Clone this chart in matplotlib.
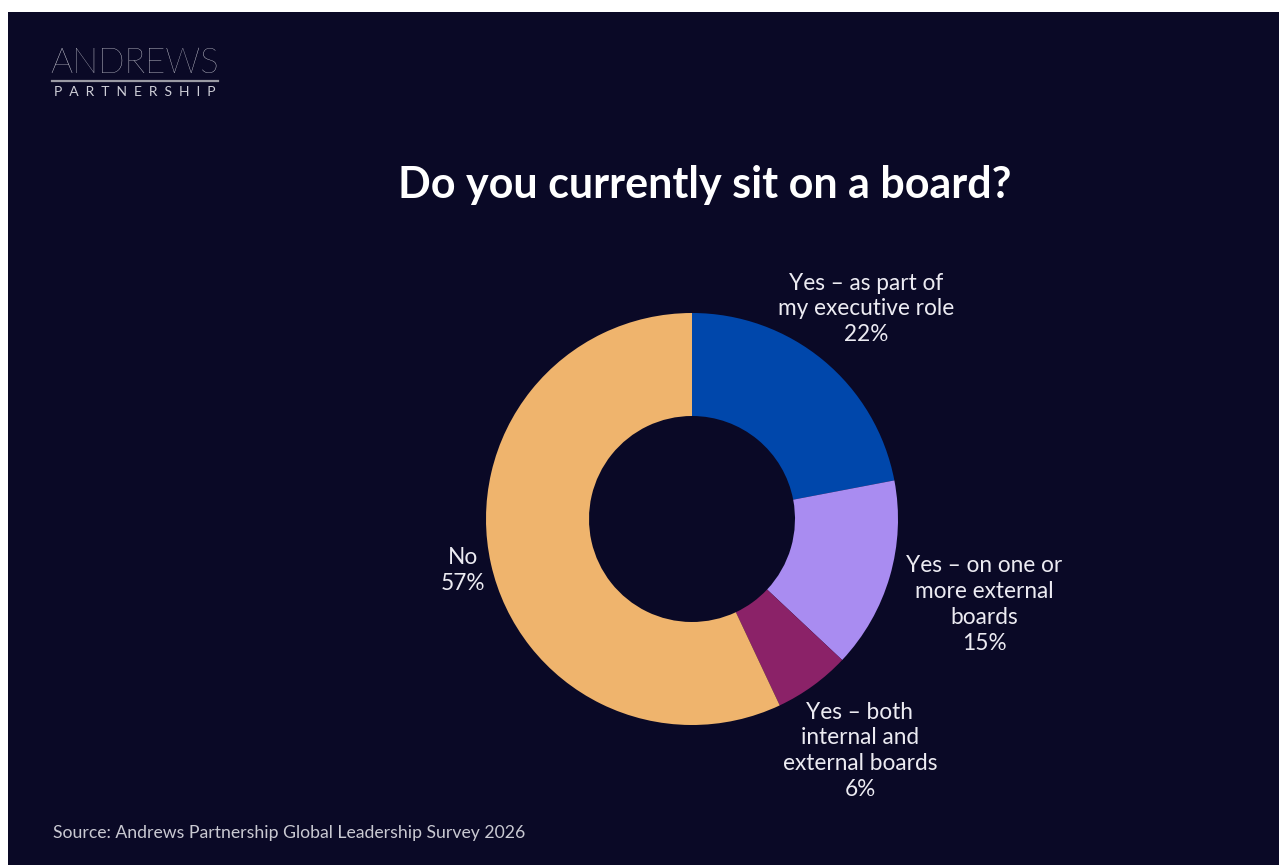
import matplotlib.pyplot as plt
from matplotlib.patches import Rectangle
from matplotlib.lines import Line2D

plt.rcParams['font.family'] = ['Lato', 'DejaVu Sans']

# survey answers, clockwise from 12 o'clock
labels = ["Yes \u2013 as part of\nmy executive role",
          "Yes \u2013 on one or\nmore external\nboards",
          "Yes \u2013 both\ninternal and\nexternal boards",
          "No"]
shares = [22, 15, 6, 57]
colors = ["#0047ab", "#a98cf1", "#8b2268", "#efb46d"]
# where each label sits, in units of the outer radius
label_pos = [(0.845, 1.02), (1.42, -0.415), (0.815, -1.125), (-1.11, -0.25)]

bg = "#0a0926"
txt = "#ecebf2"

W, H = 1279, 865
fig = plt.figure(figsize=(W / 100, H / 100), dpi=100, facecolor="white")

# dark slide with a thin white margin along the top and left
fig.patches.append(Rectangle((8 / W, 0), 1 - 8 / W, 1 - 12 / H,
                             transform=fig.transFigure, facecolor=bg,
                             edgecolor="none", zorder=-5))

# logo
fig.text(135 / W, 1 - 63 / H, "ANDREWS", ha="center", va="center",
         fontsize=25, fontweight="light", color="#e2e2ea")
fig.lines.append(Line2D([52 / W, 218 / W], [1 - 81 / H, 1 - 81 / H],
                        transform=fig.transFigure, color="#9a9aa4", lw=1.6))
fig.text(135 / W, 1 - 92 / H, "  ".join("PARTNERSHIP"), ha="center",
         va="center", fontsize=10, color="#cfcfd8")

fig.text(705 / W, 1 - 185 / H, "Do you currently sit on a board?",
         ha="center", va="center", fontsize=31, fontweight="bold", color="white")

fig.text(53 / W, 1 - 833 / H,
         "Source: Andrews Partnership Global Leadership Survey 2026",
         ha="left", va="center", fontsize=12.7, color="#c9c9d2")

cx, cy, r = 692, 519, 206
ax = fig.add_axes([(cx - r) / W, (H - cy - r) / H, 2 * r / W, 2 * r / H])
ax.pie(shares, colors=colors, startangle=90, counterclock=False, radius=1,
       wedgeprops=dict(width=0.5, edgecolor="none"))
ax.set_xlim(-1, 1)
ax.set_ylim(-1, 1)
ax.set_aspect("equal")
ax.axis("off")

for lab, val, (lx, ly) in zip(labels, shares, label_pos):
    ax.text(lx, ly, f"{lab}\n{val}%", ha="center", va="center",
            fontsize=16.3, color=txt, linespacing=1.28)

fig.savefig("out.png", dpi=100, facecolor=fig.get_facecolor())
